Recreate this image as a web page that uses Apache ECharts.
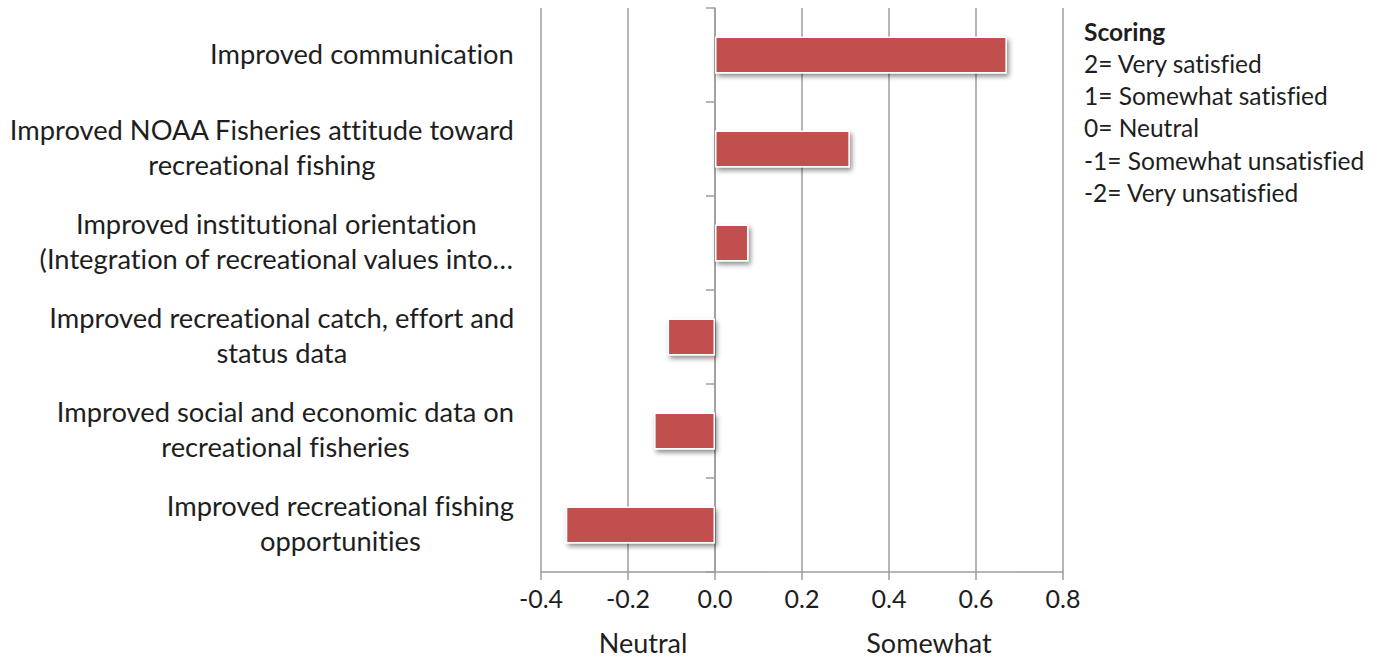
<!DOCTYPE html>
<html>
<head>
<meta charset="utf-8">
<script src="https://cdn.jsdelivr.net/npm/echarts@6/dist/echarts.min.js"></script>
<style>
  html, body { margin: 0; padding: 0; background: #ffffff; }
  #chart { width: 1382px; height: 658px; }
  #chart text {
    font-variant-ligatures: none;
    font-feature-settings: "liga" 0, "clig" 0, "calt" 0, "dlig" 0, "rlig" 0;
    text-rendering: optimizeSpeed;
  }
</style>
</head>
<body>
<div id="chart"></div>
<script>
// Survey items, listed top to bottom
const categories = [
  'Improved communication',
  'Improved NOAA Fisheries attitude toward\nrecreational fishing',
  'Improved institutional orientation\n(Integration of recreational values into\u2026',
  'Improved recreational catch, effort and\nstatus data',
  'Improved social and economic data on\nrecreational fisheries',
  'Improved recreational fishing\nopportunities'
];

// Mean satisfaction score per item
const scores = [0.671, 0.310, 0.077, -0.109, -0.140, -0.343];

// Value axis range
const axisMin = -0.4;
const axisMax = 0.8;
const axisStep = 0.2;

// Scoring key
const scoringTitle = 'Scoring';
const scoringLines = [
  '2= Very satisfied',
  '1= Somewhat satisfied',
  '0= Neutral',
  '-1= Somewhat unsatisfied',
  '-2= Very unsatisfied'
];

// Words written under the value axis
const axisWords = ['Neutral', 'Somewhat'];

const FONT = 'Lato';
const TEXT = '#1e1e1e';
const GRID = '#9c9ca0';

const chart = echarts.init(document.getElementById('chart'), null, { renderer: 'svg' });

const keyGraphics = [
  { type: 'text', left: 1084, top: 19,
    style: { text: scoringTitle, font: 'bold 24.5px ' + FONT, fill: TEXT } }
].concat(scoringLines.map((t, i) => ({
  type: 'text', left: 1084, top: 51 + i * 32.2,
  style: { text: t, font: '24.5px ' + FONT, fill: TEXT }
})));

const wordX = [643, 929];
const wordGraphics = axisWords.map((w, i) => ({
  type: 'text', x: wordX[i], y: 642,
  style: { text: w, font: '27px ' + FONT, fill: TEXT, align: 'center', verticalAlign: 'middle' }
}));

chart.setOption({
  animation: false,
  backgroundColor: '#ffffff',
  grid: { left: 541, right: 319, top: 8, bottom: 86, containLabel: false },
  xAxis: {
    type: 'value',
    min: axisMin,
    max: axisMax,
    interval: axisStep,
    position: 'bottom',
    axisLine: { show: true, onZero: false, lineStyle: { color: GRID, width: 1.5 } },
    axisTick: { show: true, length: 8, lineStyle: { color: GRID, width: 1.5 } },
    axisLabel: {
      margin: 13,
      fontFamily: FONT, fontSize: 25, color: TEXT,
      formatter: v => v.toFixed(1)
    },
    splitLine: { show: true, lineStyle: { color: GRID, width: 1.5 } }
  },
  yAxis: [
    {
      // category labels on the left edge
      type: 'category',
      data: categories,
      inverse: true,
      position: 'left',
      axisLine: { show: false, onZero: false },
      axisTick: { show: false },
      splitLine: { show: false },
      axisLabel: {
        margin: 27,
        padding: [0, 0, 4, 0],
        formatter: v => v.split('\n').map(s => '{c|' + s + '}').join('\n'),
        rich: {
          c: { align: 'center', fontFamily: FONT, fontSize: 27.3, lineHeight: 35, color: TEXT }
        }
      }
    },
    {
      // zero line with category ticks
      type: 'category',
      data: categories,
      inverse: true,
      position: 'left',
      axisLine: { show: true, onZero: true, onZeroAxisIndex: 0, lineStyle: { color: GRID, width: 1.5 } },
      axisTick: { show: true, length: 9, lineStyle: { color: GRID, width: 1.5 } },
      axisLabel: { show: false },
      splitLine: { show: false }
    }
  ],
  series: [{
    type: 'bar',
    yAxisIndex: 0,
    data: scores,
    barWidth: 37,
    itemStyle: {
      color: '#c0504d',
      borderColor: '#ffffff',
      borderWidth: 1.5,
      shadowColor: 'rgba(0,0,0,0.45)',
      shadowBlur: 5,
      shadowOffsetX: 2,
      shadowOffsetY: 3
    },
    z: 3
  }],
  graphic: keyGraphics.concat(wordGraphics)
});
</script>
</body>
</html>
